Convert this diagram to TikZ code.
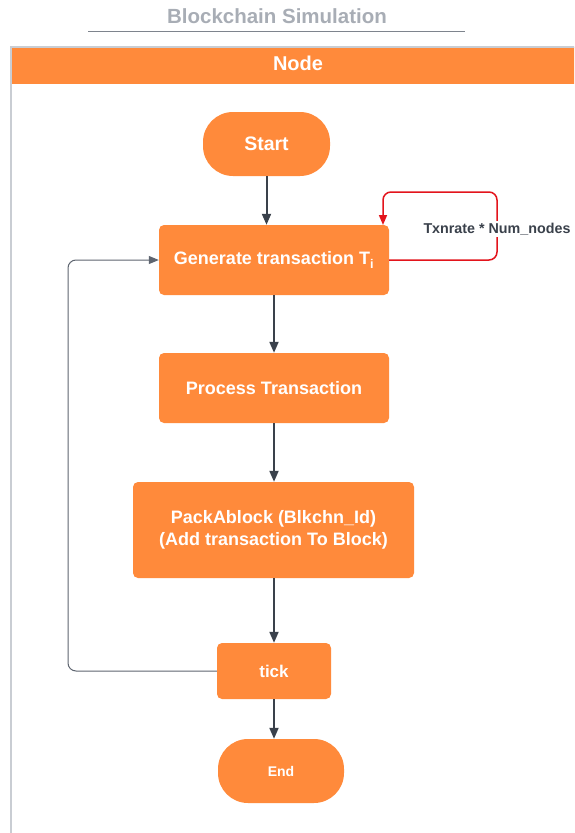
\documentclass[tikz,border=0pt]{standalone}
\usepackage{fontspec}
\setmainfont{Liberation Sans}
\usetikzlibrary{arrows.meta}
\definecolor{flowor}{HTML}{FF8A3B}
\definecolor{arrowdk}{HTML}{3A414B}
\definecolor{loopgr}{HTML}{5E6570}
\definecolor{loopred}{HTML}{E3141C}
\definecolor{titlegr}{HTML}{A8ADB5}
\definecolor{poolgr}{HTML}{C9CDD3}
\tikzset{
  procbox/.style={fill=flowor, rounded corners=5pt, text=white, font=\bfseries\fontsize{18}{22}\selectfont, align=center, inner sep=0pt},
  termbox/.style={procbox, rounded corners=30pt},
  flowarrow/.style={draw=arrowdk, line width=2pt, -{Triangle[length=11pt,width=9pt]}},
  backarrow/.style={draw=loopgr, line width=1pt, rounded corners=8pt, -{Triangle[length=10pt,width=8pt]}},
  selfarrow/.style={draw=loopred, line width=1.5pt, rounded corners=8pt, -{Triangle[length=10pt,width=8pt]}},
}
\begin{document}
\begin{tikzpicture}[x=1pt,y=-1pt]
\useasboundingbox (0,0) rectangle (574,833);
\clip (0,0) rectangle (574,833);

% title and its rule
\node[text=titlegr, font=\bfseries\fontsize{20.5}{24}\selectfont] (title) at (277,16) {Blockchain Simulation};
\draw[draw=loopgr!80, line width=1pt] (88,31) -- (465,31);

% swimlane
\fill[white] (11,47) rectangle (580,840);
\fill[flowor] (11,47) rectangle (580,84);
\draw[poolgr, line width=1.2pt] (11,840) -- (11,47) -- (580,47);
\node[text=white, font=\bfseries\fontsize{20}{24}\selectfont] (lane) at (298,63) {Node};

% steps
\node[termbox, minimum width=127pt, minimum height=64pt, font=\bfseries\fontsize{19.5}{23}\selectfont] (start) at (266.5,144) {Start};
\node[procbox, minimum width=230pt, minimum height=70pt] (gen) at (274,260) {Generate transaction T\textsubscript{i}};
\node[procbox, minimum width=230pt, minimum height=70pt] (proc) at (274,388) {Process Transaction};
\node[procbox, minimum width=281pt, minimum height=96pt] (pack) at (273.5,530) {PackAblock (Blkchn\_Id)\\(Add transaction To Block)};
\node[procbox, minimum width=114pt, minimum height=56pt, font=\bfseries\fontsize{17}{20}\selectfont] (tick) at (274,671) {tick};
\node[termbox, minimum width=126pt, minimum height=64pt, font=\bfseries\fontsize{14}{17}\selectfont] (end) at (281,771) {End};

% main flow
\draw[flowarrow] (start.south) -- (gen.north -| start.south);
\draw[flowarrow] (gen.south) -- (proc.north);
\draw[flowarrow] (proc.south) -- (pack.north -| proc.south);
\draw[flowarrow] (pack.south -| tick.north) -- (tick.north);
\draw[flowarrow] (tick.south) -- (tick.south |- end.north);

% loop back from tick
\draw[backarrow] (tick.west) -- (68,671) -- (68,260) -- (gen.west);

% self loop on generation
\coordinate (selfin) at (383,225);
\draw[selfarrow] (gen.east) -- (497,260) -- (497,192) -- (383,192) -- (selfin);
\node[fill=white, text=arrowdk, font=\bfseries\fontsize{14.3}{17}\selectfont, inner sep=2pt] (rate) at (497,229) {Txnrate * Num\_nodes};
\end{tikzpicture}
\end{document}
